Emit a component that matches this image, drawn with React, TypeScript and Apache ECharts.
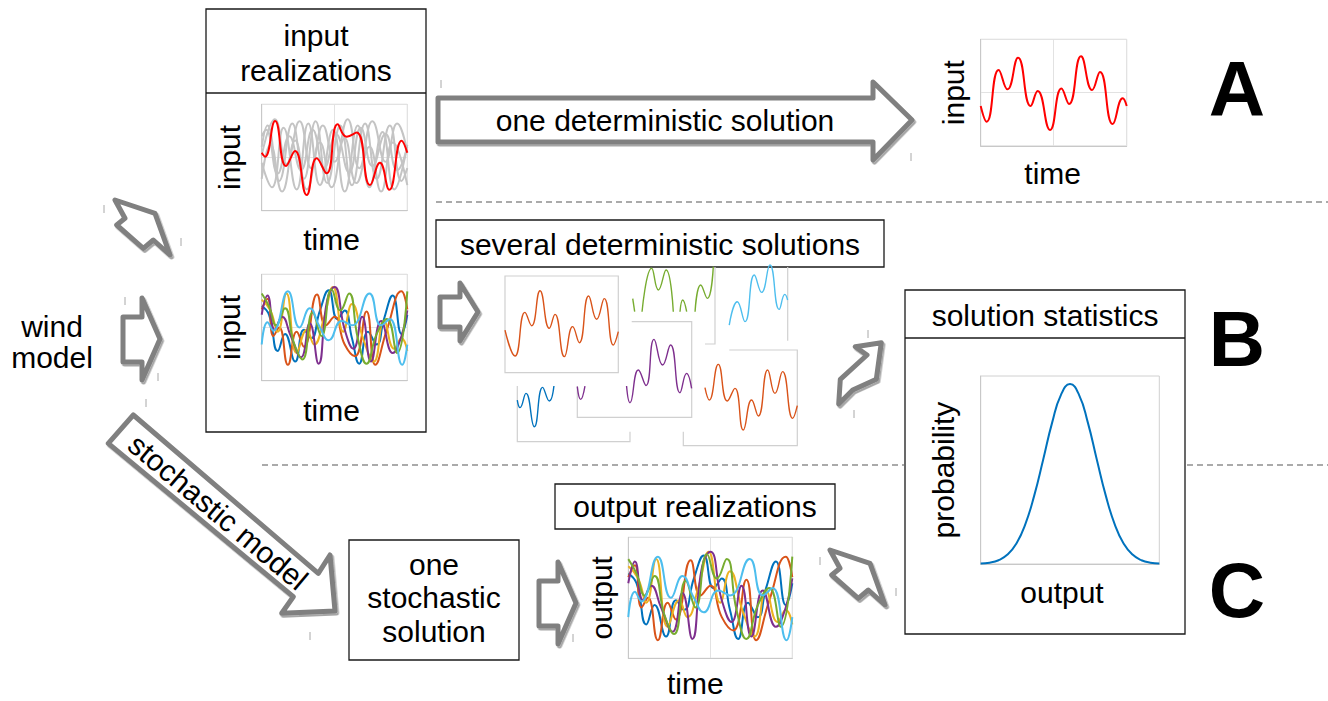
import React, { useEffect, useRef } from 'react';
import * as echarts from 'echarts';

const FONT = '"Liberation Sans", Arial, Helvetica, sans-serif';

// ---------- chart 1: input realizations (gray ensemble + one red) ----------
const inputGray1 = [[0,60],[4,80],[12,28],[21,82],[29,30],[37,84],[45,26],[54,80],[62,24],[71,82],[79,30],[88,80],[96,28],[100,40]];
const inputGray2 = [[0,45],[7,22],[15,78],[24,20],[32,82],[40,24],[49,76],[57,18],[66,80],[74,22],[83,74],[91,20],[100,62]];
const inputGray3 = [[0,70],[3,76],[11,35],[19,70],[27,38],[35,76],[43,40],[51,72],[60,36],[68,78],[76,42],[85,72],[93,38],[100,60]];
const inputGray4 = [[0,30],[6,62],[14,18],[23,66],[31,20],[40,64],[48,22],[57,68],[65,26],[74,60],[82,18],[90,64],[100,24]];
const inputGray5 = [[0,52],[9,86],[17,44],[26,84],[34,40],[42,80],[50,46],[59,86],[67,40],[76,84],[85,46],[93,82],[100,55]];
const inputRed = [[0,54.5],[2.3,50.8],[9.2,84.3],[16.7,42],[22.9,56.1],[30.9,14.7],[37.8,49.2],[44.6,35.1],[52.2,81.2],[58.4,69.6],[65.2,73.4],[74.4,24.1],[81.2,45.1],[87.6,19.7],[96.1,65.8],[100,54.5]];

// ---------- chart 2 and output realizations (same ensemble) ----------
const ensCyan = [[0,34],[4,55],[8,47],[18,84],[26,50],[33,68],[40,50],[46,38],[55,56],[62,52],[74,82],[82,52],[88,58],[96.5,15],[100,34]];
const ensBlue = [[0,70],[5,62],[11,28],[16,44],[23,18],[29,48],[34,40],[40,66],[46,85],[52,58],[57,66],[62,40],[67,16],[73,46],[79,34],[84,58],[90,80],[96,44],[100,62]];
const ensOrange = [[0,67],[4,77],[8,42],[12,50],[18,15],[24,46],[29,32],[38,81],[44,52],[50,60],[57,34],[64,23],[72,65],[78,15],[86,48],[96,84],[100,67]];
const ensYellow = [[0,76],[6,66],[11,46],[17,82],[24,26],[31,48],[36,34],[43,60],[49,88],[56,46],[62,72],[70,38],[77,18],[84,56],[91,30],[96,40],[100,28]];
const ensPurple = [[0,62],[4,80],[9,48],[14,60],[20,42],[27,22],[33,54],[39,16],[45,76],[50,88],[57,48],[63,30],[69,60],[75,18],[82,56],[90,26],[96,42],[100,66]];
const ensGreen = [[0,82],[5,70],[10,52],[16,68],[22,36],[28,20],[35,64],[41,42],[48,86],[54,66],[60,82],[66,40],[72,16],[79,44],[86,58],[93,26],[100,84]];

// ---------- chart A: one deterministic solution ----------
const detRed = [[0,37.5],[4.1,22.8],[12.3,71.3],[18.3,53.1],[25.6,82.8],[34.2,37.5],[39,51.6],[47.5,15],[55.3,53.8],[60.5,39.4],[68.7,84.1],[76.3,52.5],[81.7,69.4],[90.4,20.6],[97.3,44.7],[100,37.5]];

// ---------- solution statistics ----------
const probX = [0,5,10,15,20,25,30,35,40,45,50,55,60,65,70,75,80,85,90,95,100];
const probY = [0.3,0.7,2,5,10.9,21.2,36.5,55.6,75.2,90.1,95.7,90.1,75.2,55.6,36.5,21.2,10.9,5,2,0.7,0.3];

// ---------- collage of several deterministic solutions (visible fragments) ----------
const colOrange1 = [[0,44.1],[8.8,17.2],[17.6,62.4],[23.5,48.6],[30.9,84.8],[39.1,45.9],[44.1,60.3],[52.4,16.6],[59.7,47.6],[65.6,31],[73.8,79.3],[80.9,55.2],[87.6,76.6],[95.6,28.6],[100,42.4]];
const colGreenA = [[27.4,46.9],[29.1,33.4]];
const colGreenB = [[35.6,33.4],[44.1,78.3],[50,55.9],[56.8,76.6],[63.2,33.4]];
const colGreenC = [[69.1,33.4],[71.5,45.5],[75,33.4]];
const colGreenD = [[82.4,33.4],[87.4,61],[93.2,47.2],[98.5,80]];
const colCyan = [[48.5,16.2],[55.6,40.3],[62.4,19.7],[70.6,67.9],[77.1,50],[84.4,78.3],[92.6,32.4],[97.6,47.9],[100,42.1]];
const colPurpleA = [[0,32.1],[2.9,18.8],[6.7,32.8]];
const colPurpleB = [[43.1,32.8],[46.1,15.3],[53.4,49.5],[60.1,33.4],[67.1,81.5],[74.6,54.7],[81.6,75.6],[89.8,25.8],[95.6,46],[100,30.3]];
const colBlue = [[0,43.1],[2.4,35.2],[7.7,50],[15.1,15.5],[22.5,56.2],[28.4,42.1],[32.5,57.6]];
const colOrange2 = [[19,60.6],[22.8,47.7],[30.7,85],[38.6,46.7],[45.3,59.9],[52.6,16.4],[59.9,47.7],[65.8,31],[74,79.1],[80.4,54.7],[87.1,77.4],[95.9,28.6],[100,41.8]];

const C_BLUE = '#0072BD', C_ORANGE = '#D95319', C_YELLOW = '#EDB120', C_PURPLE = '#7E2F8E', C_GREEN = '#77AC30', C_CYAN = '#4DBEEE';

function buildOption() {
  const grid: any[] = [];
  const xAxis: any[] = [];
  const yAxis: any[] = [];
  const series: any[] = [];

  const nameStyle = { fontSize: 30, fontFamily: FONT, color: '#000' };

  function mainChart(box: number[], xName: string, yName: string, xGap: number, yGap: number, split: boolean, xShift = 0, xLineHeight = 28) {
    const gi = grid.length;
    grid.push({ left: box[0], top: box[1], width: box[2], height: box[3], show: true, borderColor: '#d0d0d0', borderWidth: 1, backgroundColor: '#fff', outerBoundsMode: 'none' });
    const common = {
      type: 'value', min: 0, max: 100, interval: 50, gridIndex: gi,
      axisLabel: { show: false }, axisTick: { show: false },
      axisLine: { show: true, lineStyle: { color: '#c8c8c8', width: 1 } },
      splitLine: { show: split, lineStyle: { color: '#e2e2e2', width: 1 } },
      nameLocation: 'middle',
    };
    xAxis.push({ ...common, name: xName, nameGap: xGap, nameTextStyle: { ...nameStyle, lineHeight: xLineHeight, padding: [0, 2 * xShift, 0, 0] } });
    yAxis.push({ ...common, name: yName, nameGap: yGap, nameTextStyle: nameStyle });
    return gi;
  }
  function miniChart(box: number[], frame: boolean) {
    const gi = grid.length;
    grid.push({ left: box[0], top: box[1], width: box[2], height: box[3], show: frame, borderColor: '#d0d0d0', borderWidth: 1.2, backgroundColor: 'transparent', outerBoundsMode: 'none' });
    const common = { type: 'value', min: 0, max: 100, gridIndex: gi, show: false };
    xAxis.push({ ...common });
    yAxis.push({ ...common });
    return gi;
  }
  function line(gi: number, data: any[], color: string, width: number, z = 3) {
    series.push({
      type: 'line', xAxisIndex: gi, yAxisIndex: gi, data, smooth: 0.5, showSymbol: false, symbol: 'none',
      lineStyle: { color, width }, z, silent: true,
    });
  }

  const g1 = mainChart([261.7, 104.3, 145.6, 106.4], 'time', 'input', 15, 17, true, 3);
  [inputGray1, inputGray2, inputGray3, inputGray4, inputGray5].forEach((d) => line(g1, d, '#c4c4c4', 2, 3));
  line(g1, inputRed, '#ff0000', 2, 4);

  const ens: [any[], string][] = [[ensBlue, C_BLUE], [ensOrange, C_ORANGE], [ensYellow, C_YELLOW], [ensPurple, C_PURPLE], [ensGreen, C_GREEN], [ensCyan, C_CYAN]];
  const g2 = mainChart([261.7, 274.3, 145.6, 106.4], 'time', 'input', 16, 17, true, 3);
  ens.forEach(([d, c]) => line(g2, d, c, 2));

  const gA = mainChart([980.7, 39.3, 146, 106.7], 'time', 'input', 13, 12, true, 1);
  line(gA, detRed, '#ff0000', 2);

  const gO = mainChart([628.3, 537.3, 164, 121], 'time', 'output', 13, 12, true, 15, 24);
  ens.forEach(([d, c]) => line(gO, d, c, 2));

  const gP = mainChart([980.7, 376, 178.6, 188], 'output', 'probability', 14, 22, false, 8);
  line(gP, probX.map((x, i) => [x, probY[i]]), C_BLUE, 2);

  const m1 = miniChart([505, 276, 113.3, 96.7], true);
  line(m1, colOrange1, C_ORANGE, 1.4);
  const m2 = miniChart([601.7, 247.3, 113.3, 96.7], false);
  [colGreenA, colGreenB, colGreenC, colGreenD].forEach((d) => line(m2, d, C_GREEN, 1.4));
  const m3 = miniChart([674.3, 244, 113.3, 96.7], false);
  line(m3, colCyan, C_CYAN, 1.4);
  const m4 = miniChart([577.3, 321.7, 114.3, 95.7], false);
  [colPurpleA, colPurpleB].forEach((d) => line(m4, d, C_PURPLE, 1.4));
  const m5 = miniChart([517.3, 345, 112.7, 96.7], false);
  line(m5, colBlue, C_BLUE, 1.4);
  const m6 = miniChart([683.3, 350, 114, 95.7], false);
  line(m6, colOrange2, C_ORANGE, 1.4);

  // ---------- graphic decorations ----------
  const g: any[] = [];
  const txt = (text: string, x: number, y: number, extra: any = {}) =>
    g.push({ type: 'text', x, y, z: 30, silent: true, ...extra, style: { text, fontSize: 30, fontFamily: FONT, fill: '#000', align: 'center', verticalAlign: 'middle', ...(extra.style || {}) } });
  const box = (x: number, y: number, w: number, h: number) =>
    g.push({ type: 'rect', z: 1, silent: true, shape: { x, y, width: w, height: h }, style: { fill: 'rgba(255,255,255,0)', stroke: '#1a1a1a', lineWidth: 1.3 } });
  const hline = (x1: number, x2: number, y: number, stroke: string, lineWidth: number, dash?: number[]) =>
    g.push({ type: 'line', z: 1, silent: true, shape: { x1, y1: y, x2, y2: y }, style: { stroke, lineWidth, lineDash: dash } });
  const arrow = (pts: number[][]) =>
    g.push({ type: 'polygon', z: 10, silent: true, shape: { points: pts }, style: { fill: '#fff', stroke: '#808080', lineWidth: 5, lineJoin: 'round', shadowColor: 'rgba(0,0,0,0.35)', shadowBlur: 1, shadowOffsetX: 1.5, shadowOffsetY: 2 } });
  const frame = (pts: number[][]) =>
    g.push({ type: 'polyline', z: 1, silent: true, shape: { points: pts }, style: { stroke: '#d0d0d0', lineWidth: 1.2, fill: null } });
  const tick = (x: number, y: number) =>
    g.push({ type: 'line', z: 1, silent: true, shape: { x1: x, y1: y, x2: x, y2: y + 8 }, style: { stroke: '#a8a8a8', lineWidth: 1 } });

  // dashed separators
  hline(436, 1328, 202, '#aaaaaa', 2, [6, 4]);
  hline(262, 904, 465, '#aaaaaa', 2, [6, 4]);
  hline(1187, 1328, 465, '#aaaaaa', 2, [6, 4]);

  // boxes
  box(206, 9, 220, 423);
  hline(206, 426, 93, '#1a1a1a', 1.3);
  box(436, 220, 448, 47);
  box(905, 290, 280, 344);
  hline(905, 1185, 338, '#1a1a1a', 1.3);
  box(555, 484, 280, 45);
  box(349, 540, 170, 120);

  // collage partial frames
  frame([[715, 267], [715, 344], [705, 344]]);
  frame([[787.7, 267], [787.7, 340.7]]);
  frame([[631.7, 321.7], [691.7, 321.7], [691.7, 417.3], [577.3, 417.3], [577.3, 386]]);
  frame([[517.3, 386], [517.3, 441.7], [630, 441.7], [630, 431.7]]);
  frame([[729.3, 350], [797.3, 350], [797.3, 445.7], [683.3, 445.7], [683.3, 431.7]]);

  // arrows
  arrow([[438, 98], [873, 98], [873, 82], [912, 120], [873, 160], [873, 142], [438, 142]]);
  arrow([[155, 213.3], [170, 255], [153.3, 240], [143.3, 248.3], [116.7, 225], [125, 218.3], [115, 200]]);
  arrow([[123, 317], [142, 317], [142, 298], [160, 339], [142, 380], [142, 362], [123, 362]]);
  arrow([[133.3, 415], [318.3, 573.3], [330, 555], [335, 611], [281.7, 613.3], [293.3, 596.7], [108.3, 443.3]]);
  arrow([[440, 297], [460, 297], [460, 283], [478, 312], [460, 341], [460, 327], [440, 327]]);
  arrow([[539, 581], [558, 581], [558, 562], [576, 603], [558, 644], [558, 626], [539, 626]]);
  arrow([[881.3, 342.7], [876.3, 379.3], [852.7, 390], [838.7, 404], [840.3, 379.3], [867, 355], [855.3, 346.7]]);
  arrow([[870, 563.3], [885, 605], [868.3, 590], [858.3, 598.3], [831.7, 575], [840, 568.3], [830, 550]]);

  // small marks
  [[441, 80], [911, 153], [104, 205], [181, 238], [125, 297], [158, 373], [146, 399], [868, 330], [854, 410], [820, 557], [896, 588], [573, 634], [310, 632]].forEach(([x, y]) => tick(x, y));

  // texts
  txt('wind', 52, 326);
  txt('model', 52, 357);
  txt('input', 316, 35);
  txt('realizations', 316, 70);
  txt('one deterministic solution', 665, 120);
  txt('several deterministic solutions', 660, 244);
  txt('solution statistics', 1045, 315);
  txt('output realizations', 695, 506);
  txt('one', 434, 564);
  txt('stochastic', 434, 597);
  txt('solution', 434, 631);
  txt('stochastic model', 218, 512, { rotation: (-40 * Math.PI) / 180 });
  txt('A', 1237, 89, { style: { fontSize: 78, fontWeight: 'bold' } });
  txt('B', 1237, 339, { style: { fontSize: 78, fontWeight: 'bold' } });
  txt('C', 1237, 590, { style: { fontSize: 78, fontWeight: 'bold' } });

  return { animation: false, backgroundColor: '#fff', grid, xAxis, yAxis, series, graphic: { elements: g } };
}

export default function App() {
  const ref = useRef<HTMLDivElement>(null);
  useEffect(() => {
    const chart = echarts.init(ref.current as HTMLDivElement, null, { renderer: 'svg' });
    chart.setOption(buildOption() as any);
    return () => chart.dispose();
  }, []);
  return <div ref={ref} style={{ position: 'absolute', left: 0, top: 0, width: 1328, height: 701, background: '#fff' }} />;
}
